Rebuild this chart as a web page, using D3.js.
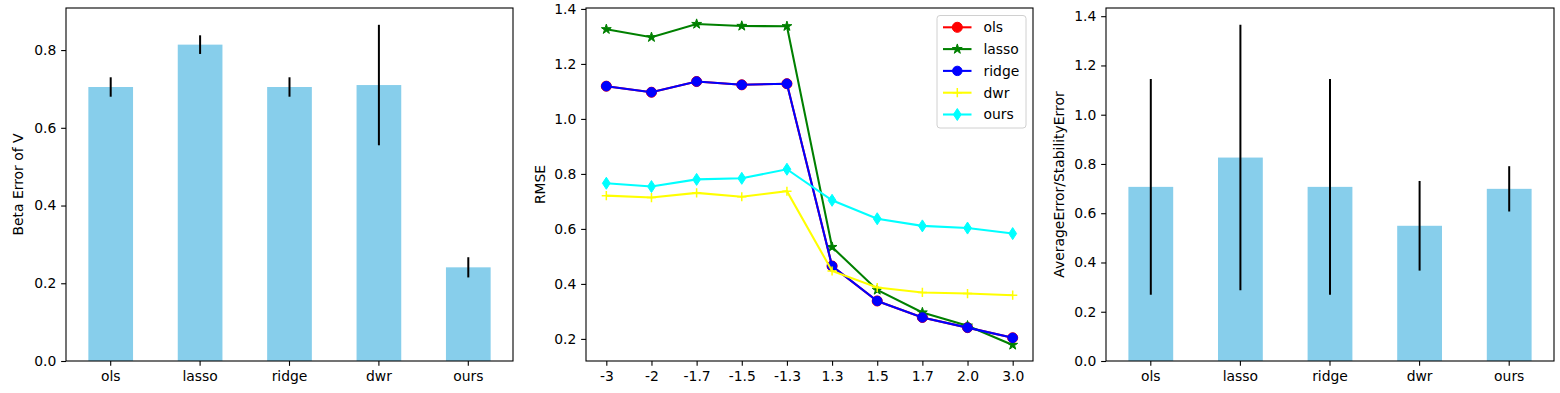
<!DOCTYPE html>
<html>
<head>
<meta charset="utf-8">
<script src="https://cdn.jsdelivr.net/npm/d3@7"></script>
<style>
  body { margin: 0; background: #fff; }
  text { font-family: "DejaVu Sans", sans-serif; fill: #000; }
</style>
</head>
<body>
<svg id="chart" width="1560" height="393"></svg>
<script>
// methods shown in every panel
const categories = ["ols", "lasso", "ridge", "dwr", "ours"];

// left panel: beta error of V with std
const betaError = [0.705, 0.814, 0.705, 0.710, 0.241];
const betaErrorStd = [0.025, 0.024, 0.025, 0.155, 0.026];

// middle panel: RMSE per setting
const xLabels = ["-3", "-2", "-1.7", "-1.5", "-1.3", "1.3", "1.5", "1.7", "2.0", "3.0"];
const rmseOls = [1.119, 1.097, 1.136, 1.124, 1.128, 0.465, 0.338, 0.278, 0.241, 0.204];
const rmseLasso = [1.326, 1.297, 1.345, 1.338, 1.337, 0.534, 0.378, 0.296, 0.248, 0.178];
const rmseRidge = [1.119, 1.097, 1.136, 1.124, 1.128, 0.465, 0.338, 0.278, 0.241, 0.204];
const rmseDwr = [0.721, 0.714, 0.731, 0.717, 0.737, 0.447, 0.387, 0.369, 0.365, 0.359];
const rmseOurs = [0.766, 0.754, 0.780, 0.784, 0.817, 0.704, 0.637, 0.611, 0.603, 0.583];

// right panel: average error / stability error
const avgError = [0.707, 0.826, 0.707, 0.549, 0.699];
const avgErrorStd = [0.438, 0.539, 0.438, 0.182, 0.092];

const svg = d3.select("#chart");
const plotTop = 8, plotBottom = 361;
const tickLen = 4.86, fontSize = 13.9;

function styleAxis(g) {
  g.select(".domain").remove();
  g.selectAll(".tick line").attr("stroke", "#000").attr("stroke-width", 1.1);
  g.selectAll(".tick text").style("font-size", fontSize + "px").style("font-family", "DejaVu Sans");
}

function frame(x0, x1) {
  svg.append("rect")
    .attr("x", x0).attr("y", plotTop)
    .attr("width", x1 - x0).attr("height", plotBottom - plotTop)
    .attr("fill", "none").attr("stroke", "#000").attr("stroke-width", 1.1);
}

function yLabel(x, text) {
  svg.append("text")
    .attr("transform", `translate(${x},${(plotTop + plotBottom) / 2}) rotate(-90)`)
    .attr("text-anchor", "middle")
    .style("font-size", fontSize + "px")
    .text(text);
}

function barPanel(x0, x1, values, errs, ticks, label, labelX) {
  const x = d3.scaleBand().domain(categories).range([x0, x1])
    .paddingInner(0.5).paddingOuter(0.25);
  const ymax = d3.max(values, (v, i) => v + errs[i]) * 1.05;
  const y = d3.scaleLinear().domain([0, ymax]).range([plotBottom, plotTop]);

  svg.append("g").selectAll("rect")
    .data(values)
    .enter().append("rect")
    .attr("x", (d, i) => x(categories[i]))
    .attr("y", d => y(d))
    .attr("width", x.bandwidth())
    .attr("height", d => plotBottom - y(d))
    .attr("fill", "#87ceeb");

  // error bars, no caps
  svg.append("g").selectAll("line")
    .data(values)
    .enter().append("line")
    .attr("x1", (d, i) => x(categories[i]) + x.bandwidth() / 2)
    .attr("x2", (d, i) => x(categories[i]) + x.bandwidth() / 2)
    .attr("y1", (d, i) => y(d - errs[i]))
    .attr("y2", (d, i) => y(d + errs[i]))
    .attr("stroke", "#000").attr("stroke-width", 2);

  svg.append("g")
    .attr("transform", `translate(0,${plotBottom})`)
    .call(d3.axisBottom(x).tickSize(tickLen).tickPadding(4.86))
    .call(styleAxis);

  svg.append("g")
    .attr("transform", `translate(${x0},0)`)
    .call(d3.axisLeft(y).tickValues(ticks).tickFormat(d3.format(".1f")).tickSize(tickLen).tickPadding(4.86))
    .call(styleAxis);

  frame(x0, x1);
  yLabel(labelX, label);
}

barPanel(66, 513, betaError, betaErrorStd, [0, 0.2, 0.4, 0.6, 0.8], "Beta Error of V", 23);
barPanel(1106, 1554, avgError, avgErrorStd, [0, 0.2, 0.4, 0.6, 0.8, 1.0, 1.2, 1.4], "AverageError/StabilityError", 1064);

// middle line panel
const series = [
  { name: "ols", values: rmseOls, color: "red", marker: "bigcircle" },
  { name: "lasso", values: rmseLasso, color: "green", marker: "star" },
  { name: "ridge", values: rmseRidge, color: "blue", marker: "circle" },
  { name: "dwr", values: rmseDwr, color: "yellow", marker: "plus" },
  { name: "ours", values: rmseOurs, color: "cyan", marker: "thin_diamond" }
];

const lx0 = 586, lx1 = 1033;
const xp = d3.scalePoint().domain(xLabels).range([lx0, lx1]).padding(0.45);
const allVals = series.flatMap(s => s.values);
const lo = d3.min(allVals), hi = d3.max(allVals), m = (hi - lo) * 0.05;
const yl = d3.scaleLinear().domain([lo - m, hi + m]).range([plotBottom, plotTop]);

function markerPath(type) {
  if (type === "bigcircle") return d3.symbol(d3.symbolCircle, 80)();
  if (type === "circle") return d3.symbol(d3.symbolCircle, 70)();
  if (type === "star") return d3.symbol(d3.symbolStar, 30)();
  if (type === "plus") return "M-4.6,0H4.6M0,-4.6V4.6";
  // thin diamond
  return "M0,-6L3.9,0L0,6L-3.9,0Z";
}

function drawMarker(g, type, color) {
  g.append("path")
    .attr("d", markerPath(type))
    .attr("fill", type === "plus" ? "none" : color)
    .attr("stroke", color)
    .attr("stroke-width", type === "plus" ? 1.5 : 1);
}

const line = d3.line().x((d, i) => xp(xLabels[i])).y(d => yl(d));

series.forEach(s => {
  const g = svg.append("g");
  g.append("path")
    .datum(s.values)
    .attr("d", line)
    .attr("fill", "none")
    .attr("stroke", s.color)
    .attr("stroke-width", 2.08);
  s.values.forEach((v, i) => {
    const mg = g.append("g").attr("transform", `translate(${xp(xLabels[i])},${yl(v)})`);
    drawMarker(mg, s.marker, s.color);
  });
});

svg.append("g")
  .attr("transform", `translate(0,${plotBottom})`)
  .call(d3.axisBottom(xp).tickSize(tickLen).tickPadding(4.86))
  .call(styleAxis);

svg.append("g")
  .attr("transform", `translate(${lx0},0)`)
  .call(d3.axisLeft(yl).tickValues([0.2, 0.4, 0.6, 0.8, 1.0, 1.2, 1.4]).tickFormat(d3.format(".1f")).tickSize(tickLen).tickPadding(4.86))
  .call(styleAxis);

frame(lx0, lx1);
yLabel(545, "RMSE");

// legend
const legend = svg.append("g").attr("transform", "translate(937,15.5)");
legend.append("rect")
  .attr("width", 89).attr("height", 112.5)
  .attr("rx", 3)
  .attr("fill", "#fff").attr("fill-opacity", 0.8)
  .attr("stroke", "#d0d0d0").attr("stroke-width", 1);

series.forEach((s, i) => {
  const row = legend.append("g").attr("transform", `translate(0,${11.8 + i * 21.8})`);
  row.append("line")
    .attr("x1", 6).attr("x2", 34.5)
    .attr("stroke", s.color).attr("stroke-width", 2.08);
  const mg = row.append("g").attr("transform", "translate(20.3,0)");
  drawMarker(mg, s.marker, s.color);
  row.append("text")
    .attr("x", 46.5).attr("dy", "0.35em")
    .style("font-size", fontSize + "px")
    .text(s.name);
});
</script>
</body>
</html>
